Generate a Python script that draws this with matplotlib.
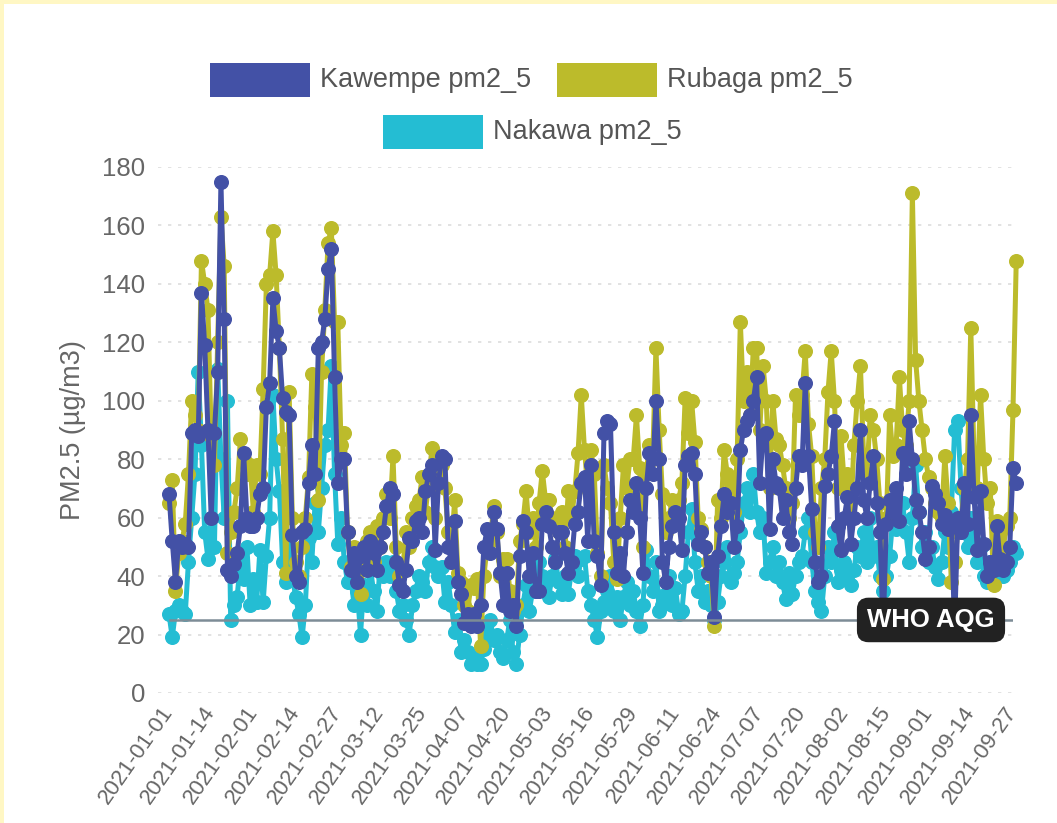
import matplotlib
matplotlib.use("Agg")
import matplotlib.pyplot as plt
import matplotlib.patches as mpatches
import matplotlib.transforms as mtransforms

plt.rcParams['font.family'] = ['Liberation Sans', 'DejaVu Sans']

# daily PM2.5 readings, one value per category on the x axis
kawempe = [68, 52, 38, 52, 50, 51, 50, 89, 90, 88, 137, 119, 90,
           60, 89, 110, 175, 128, 42, 40, 44, 48, 57, 82, 60, 57,
           57, 60, 68, 70, 98, 106, 135, 124, 118, 101, 96, 95, 54,
           40, 38, 55, 56, 72, 85, 75, 118, 120, 128, 145, 152, 108,
           72, 80, 80, 55, 42, 48, 38, 47, 50, 42, 52, 48, 42,
           50, 55, 64, 70, 68, 45, 37, 35, 42, 53, 52, 59, 60,
           55, 69, 75, 78, 49, 72, 81, 80, 50, 45, 59, 38, 34,
           24, 27, 23, 27, 23, 30, 50, 56, 48, 62, 56, 41, 30,
           41, 28, 30, 23, 47, 59, 55, 40, 48, 35, 35, 58, 62,
           57, 50, 45, 55, 55, 48, 41, 45, 58, 62, 72, 74, 52,
           78, 52, 47, 37, 89, 93, 92, 55, 41, 48, 40, 55, 66,
           62, 72, 60, 41, 70, 82, 75, 100, 80, 45, 38, 50, 57,
           62, 60, 49, 78, 81, 82, 75, 51, 55, 50, 41, 45, 26,
           47, 57, 68, 62, 65, 50, 57, 83, 90, 93, 95, 100, 108,
           72, 88, 89, 56, 80, 72, 70, 60, 66, 55, 51, 70, 81,
           78, 106, 81, 63, 45, 38, 40, 71, 75, 81, 93, 57, 49,
           60, 67, 51, 60, 70, 90, 66, 60, 72, 81, 65, 55, 22,
           58, 66, 62, 70, 59, 82, 75, 93, 80, 66, 62, 55, 46,
           50, 71, 68, 65, 58, 61, 56, 59, 22, 60, 55, 72, 58,
           95, 67, 49, 69, 51, 40, 45, 42, 57, 46, 42, 45, 50,
           77, 72]

rubaga = [65, 73, 35, 48, 52, 58, 75, 100, 95, 90, 148, 140, 131,
          88, 78, 120, 163, 146, 48, 55, 62, 70, 87, 80, 75, 78,
          62, 78, 75, 104, 140, 143, 158, 143, 118, 87, 41, 103, 60,
          45, 40, 50, 60, 74, 109, 98, 66, 110, 131, 154, 159, 127,
          127, 85, 89, 55, 43, 50, 45, 34, 48, 52, 55, 45, 57,
          50, 60, 68, 60, 81, 50, 40, 42, 55, 50, 60, 64, 66,
          74, 62, 72, 84, 60, 80, 78, 70, 55, 50, 66, 41, 38,
          30, 28, 37, 36, 39, 16, 40, 50, 52, 64, 55, 40, 46,
          46, 35, 28, 30, 52, 58, 69, 55, 60, 50, 65, 76, 66,
          66, 60, 59, 55, 62, 50, 69, 60, 69, 82, 102, 83, 70,
          83, 75, 48, 40, 78, 70, 65, 45, 39, 60, 78, 70, 80,
          80, 95, 77, 50, 75, 85, 80, 118, 90, 68, 55, 60, 66,
          60, 66, 72, 101, 89, 100, 86, 60, 56, 50, 45, 40, 23,
          66, 60, 83, 75, 72, 62, 80, 127, 100, 110, 95, 118, 118,
          90, 112, 100, 70, 100, 87, 85, 78, 70, 60, 65, 102, 95,
          102, 117, 92, 81, 55, 50, 70, 80, 103, 117, 100, 70, 88,
          72, 75, 60, 85, 100, 112, 80, 75, 95, 90, 80, 65, 39,
          60, 95, 81, 85, 108, 90, 85, 100, 171, 114, 100, 90, 80,
          74, 70, 65, 62, 60, 81, 65, 38, 45, 55, 60, 70, 80,
          125, 80, 70, 102, 80, 65, 70, 37, 59, 55, 50, 57, 60,
          97, 148]

nakawa = [27, 19, 28, 30, 28, 27, 45, 60, 75, 110, 85, 55, 46,
          60, 50, 111, 80, 60, 100, 25, 30, 33, 45, 39, 50, 30,
          39, 31, 49, 31, 47, 60, 102, 80, 69, 45, 38, 50, 40,
          33, 27, 19, 30, 53, 45, 65, 55, 70, 85, 90, 112, 75,
          51, 60, 45, 38, 40, 30, 35, 20, 37, 30, 43, 35, 28,
          43, 40, 45, 40, 45, 35, 28, 30, 25, 20, 30, 35, 40,
          38, 35, 45, 50, 43, 40, 43, 31, 38, 30, 21, 25, 14,
          18, 14, 10, 12, 10, 10, 15, 21, 25, 18, 20, 14, 12,
          18, 25, 14, 10, 20, 30, 37, 28, 35, 40, 45, 40, 38,
          33, 40, 46, 38, 34, 40, 34, 42, 47, 40, 46, 47, 35,
          30, 25, 19, 28, 31, 35, 40, 28, 33, 25, 33, 38, 30,
          35, 28, 23, 30, 49, 40, 35, 45, 28, 30, 34, 40, 30,
          36, 27, 28, 40, 55, 63, 45, 35, 40, 31, 35, 30, 25,
          31, 40, 45, 50, 38, 41, 45, 55, 65, 70, 62, 75, 62,
          55, 60, 41, 45, 50, 40, 45, 38, 32, 41, 34, 40, 45,
          47, 55, 60, 45, 35, 31, 28, 40, 50, 45, 55, 38, 42,
          45, 40, 37, 42, 50, 47, 55, 45, 60, 47, 50, 40, 35,
          40, 47, 60, 56, 60, 65, 55, 45, 60, 78, 62, 50, 55,
          45, 50, 43, 39, 45, 55, 50, 62, 90, 93, 70, 55, 50,
          60, 52, 45, 50, 40, 38, 45, 40, 42, 45, 40, 42, 45,
          50, 48]

tick_labels = ["2021-01-01", "2021-01-14", "2021-02-01", "2021-02-14", "2021-02-27",
               "2021-03-12", "2021-03-25", "2021-04-07", "2021-04-20", "2021-05-03",
               "2021-05-16", "2021-05-29", "2021-06-11", "2021-06-24", "2021-07-07",
               "2021-07-20", "2021-08-02", "2021-08-15", "2021-09-01", "2021-09-14",
               "2021-09-27"]
who_aqg = 25

names = ["Kawempe pm2_5", "Rubaga pm2_5", "Nakawa pm2_5"]
colors = ["#4351A6", "#BCBB2B", "#24BDD3"]

W, H = 1057, 823
fig = plt.figure(figsize=(W / 100, H / 100), dpi=100)
fig.patch.set_facecolor("white")

# pale yellow frame at top and left
fig.patches.append(mpatches.Rectangle((0, 1 - 4 / H), 1, 4 / H, transform=fig.transFigure,
                                      facecolor="#FFF7C4", edgecolor="none"))
fig.patches.append(mpatches.Rectangle((0, 0), 4 / W, 1, transform=fig.transFigure,
                                      facecolor="#FFF7C4", edgecolor="none"))

ax_l, ax_r, ax_t, ax_b = 158, 1013, 167, 693
ax = fig.add_axes([ax_l / W, 1 - ax_b / H, (ax_r - ax_l) / W, (ax_b - ax_t) / H])

x = list(range(len(kawempe)))
series = [kawempe, rubaga, nakawa]
for vals, col, z in zip(series, colors, [4, 3, 2]):
    ax.plot(x, vals, color=col, lw=3.6, marker="o", ms=9.8, mec=col, mfc=col,
            zorder=z, clip_on=False)

ax.set_ylim(0, 180)
ax.set_xlim(-(169 - ax_l) / 3.246, 260)
ax.set_yticks(range(0, 181, 20))
ax.set_xticks(range(0, 261, 13))
ax.set_xticklabels(tick_labels, rotation=55, ha="right", va="center", rotation_mode="anchor")
ax.tick_params(axis="both", length=0, labelcolor="#666666", labelsize=18.5)
ax.tick_params(axis="x", pad=11, labelsize=16)
ax.tick_params(axis="y", pad=9)
ax.grid(axis="y", color="#DDDDDD", linestyle=(0, (2, 4)), lw=1.2)
ax.set_axisbelow(True)
for s in ax.spines.values():
    s.set_visible(False)
ax.set_ylabel("PM2.5 (µg/m3)", color="#666666", fontsize=19.5, labelpad=12)

# WHO guideline line with its label
ax.axhline(who_aqg, xmin=(170 - ax_l) / (ax_r - ax_l), xmax=1, color="#7D8C96", lw=1.8, zorder=5)
trans = mtransforms.blended_transform_factory(ax.transAxes, ax.transData)
ax.text((931 - ax_l) / (ax_r - ax_l), who_aqg, "WHO AQG", transform=trans, ha="center", va="center",
        color="white", fontsize=18.5, fontweight="bold", zorder=6,
        bbox=dict(boxstyle="round,pad=0.4,rounding_size=0.45", facecolor="#222222", edgecolor="none"))

# legend drawn by hand: two items on the first row, one centred below
legend_items = [(210, 63, 0), (557, 63, 1), (383, 115, 2)]
for lx, ly, k in legend_items:
    fig.patches.append(mpatches.Rectangle((lx / W, 1 - (ly + 34) / H), 100 / W, 34 / H,
                                          transform=fig.transFigure, facecolor=colors[k],
                                          edgecolor="none"))
    fig.text((lx + 110) / W, 1 - (ly + 17) / H, names[k], ha="left", va="center",
             fontsize=19.5, color="#555555")

fig.savefig("out.png", dpi=100, facecolor=fig.get_facecolor())
